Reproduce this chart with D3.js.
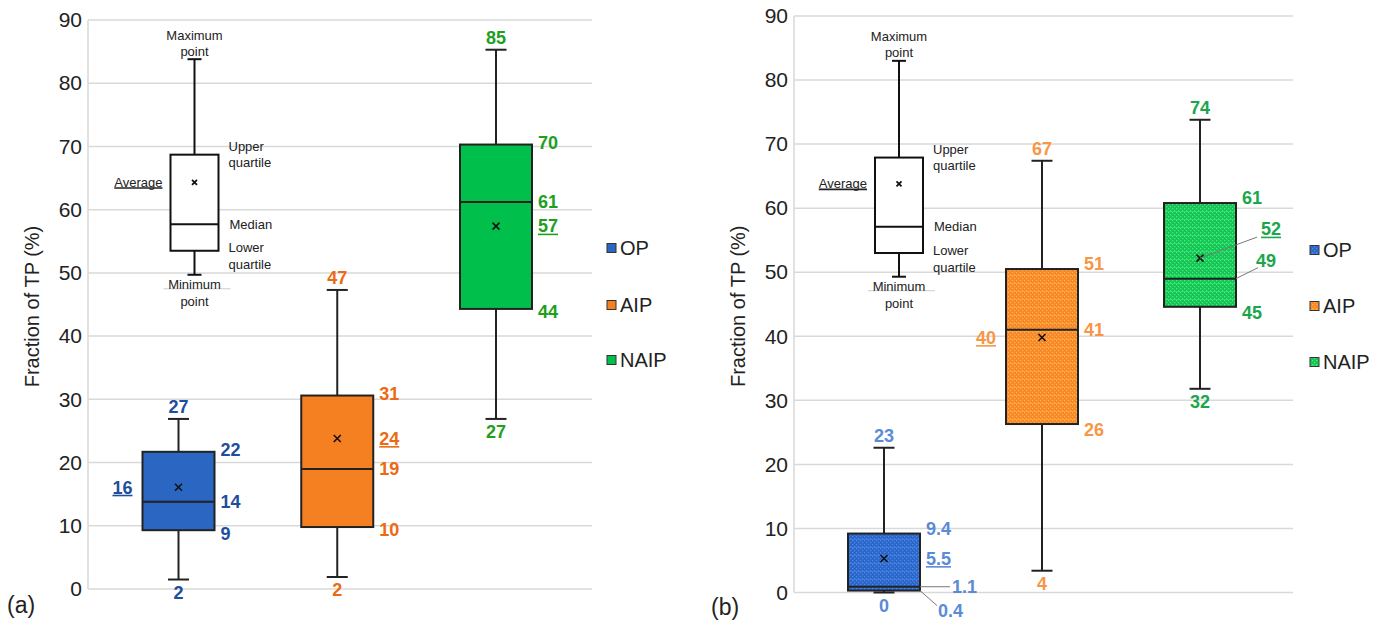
<!DOCTYPE html>
<html><head><meta charset="utf-8">
<script src="https://cdn.jsdelivr.net/npm/d3@7"></script>
<style>body{margin:0;background:#fff}svg{display:block;font-family:"Liberation Sans",Arial,sans-serif}</style>
</head><body>
<svg id="c" width="1373" height="623"></svg>
<script>
const categories = ["OP","AIP","NAIP"];
const yTicks = [0,10,20,30,40,50,60,70,80,90];
// Panel (a)
const aMin  = [1.5, 1.9, 26.9];
const aQ1   = [9.3, 9.8, 44.3];
const aMed  = [13.8, 19.0, 61.2];
const aQ3   = [21.7, 30.6, 70.3];
const aMax  = [26.9, 47.3, 85.3];
const aMean = [16.1, 23.8, 57.4];
const aLabMin  = ["2","2","27"];
const aLabQ1   = ["9","10","44"];
const aLabMed  = ["14","19","61"];
const aLabQ3   = ["22","31","70"];
const aLabMax  = ["27","47","85"];
const aLabMean = ["16","24","57"];
// Panel (b)
const bMin  = [0.0, 3.4, 31.8];
const bQ1   = [0.3, 26.3, 44.6];
const bMed  = [0.9, 41.0, 49.0];
const bQ3   = [9.2, 50.5, 60.8];
const bMax  = [22.6, 67.4, 73.8];
const bMean = [5.3, 39.8, 52.2];
const bLabMin  = ["0","4","32"];
const bLabQ1   = ["0.4","26","45"];
const bLabMed  = ["1.1","41","49"];
const bLabQ3   = ["9.4","51","61"];
const bLabMax  = ["23","67","74"];
const bLabMean = ["5.5","40","52"];
// Example (key) boxes
const exA = {min:49.7, q1:53.5, med:57.7, q3:68.7, max:83.8, mean:64.3};
const exB = {min:49.3, q1:53.0, med:57.1, q3:67.9, max:83.0, mean:63.8};

const fillA = ["#2A66C2","#F58022","#00C04B"];
const fillB = ["#2F66C4","#F7862C","#1FBF57"];
const labA  = ["#1F4E9C","#EC6A12","#1DA01D"];
const labB  = ["#5B8AD6","#F79646","#1CA64C"];

const svg = d3.select("#c");
const defs = svg.append("defs");
fillB.forEach((c,i)=>{
  const p = defs.append("pattern").attr("id","pat"+i).attr("patternUnits","userSpaceOnUse")
    .attr("width",4).attr("height",8);
  p.append("rect").attr("width",4).attr("height",8).attr("fill",c);
  const light = d3.color(c).brighter(0.9).formatHex();
  p.append("rect").attr("x",0).attr("y",0).attr("width",1.2).attr("height",1.2).attr("fill",light);
  p.append("rect").attr("x",2).attr("y",2).attr("width",1.2).attr("height",1.2).attr("fill",light);
  p.append("rect").attr("x",0).attr("y",4).attr("width",1.2).attr("height",1.2).attr("fill",light);
  p.append("rect").attr("x",2).attr("y",6).attr("width",1.2).attr("height",1.2).attr("fill",light);
  p.append("rect").attr("x",0).attr("y",3).attr("width",4).attr("height",0.8).attr("fill",light).attr("opacity",0.6);
});

function underline(sel, color){
  sel.each(function(){
    const bb = this.getBBox();
    d3.select(this.parentNode).append("line")
      .attr("x1",bb.x).attr("x2",bb.x+bb.width)
      .attr("y1",bb.y+bb.height-2).attr("y2",bb.y+bb.height-2)
      .attr("stroke",color).attr("stroke-width",1.6);
  });
}

function panel(cfg){
  const g = svg.append("g");
  const y = d3.scaleLinear().domain([0,90]).range([cfg.y0, cfg.y90]);
  const x = d3.scalePoint().domain(categories).range(cfg.xr);
  // grid
  g.selectAll(".grid").data(yTicks).enter().append("line")
    .attr("x1",cfg.left).attr("x2",cfg.right).attr("y1",d=>y(d)).attr("y2",d=>y(d))
    .attr("stroke","#d9d9d9").attr("stroke-width",1.5);
  g.append("line").attr("x1",cfg.left).attr("x2",cfg.left).attr("y1",y(0)).attr("y2",y(90))
    .attr("stroke","#d9d9d9").attr("stroke-width",1.5);
  const ax = g.append("g").attr("transform",`translate(${cfg.left},0)`)
    .call(d3.axisLeft(y).tickValues(yTicks).tickSize(0).tickPadding(6));
  ax.select(".domain").remove();
  ax.selectAll("text").attr("font-size",21).attr("fill","#222").attr("font-family","Liberation Sans, Arial, sans-serif");
  g.append("text").attr("transform",`translate(${cfg.left-49},${(y(0)+y(90))/2+2}) rotate(-90)`)
    .attr("text-anchor","middle").attr("font-size",20).attr("fill","#222").text("Fraction of TP (%)");
  g.append("text").attr("x",cfg.pl[0]).attr("y",cfg.pl[1]).attr("font-size",23).attr("fill","#222").text(cfg.panelLabel);

  const bw = 72, cw = 21;
  const d = categories.map((c,i)=>({c,i,min:cfg.min[i],q1:cfg.q1[i],med:cfg.med[i],q3:cfg.q3[i],max:cfg.max[i],mean:cfg.mean[i]}));
  const bx = g.selectAll(".box").data(d).enter().append("g");
  bx.append("line").attr("x1",e=>x(e.c)).attr("x2",e=>x(e.c)).attr("y1",e=>y(e.max)).attr("y2",e=>y(e.min))
    .attr("stroke","#222").attr("stroke-width",2);
  bx.append("line").attr("x1",e=>x(e.c)-cw/2).attr("x2",e=>x(e.c)+cw/2).attr("y1",e=>y(e.max)).attr("y2",e=>y(e.max))
    .attr("stroke","#222").attr("stroke-width",2);
  bx.append("line").attr("x1",e=>x(e.c)-cw/2).attr("x2",e=>x(e.c)+cw/2).attr("y1",e=>y(e.min)).attr("y2",e=>y(e.min))
    .attr("stroke","#222").attr("stroke-width",2);
  bx.append("rect").attr("x",e=>x(e.c)-bw/2).attr("width",bw).attr("y",e=>y(e.q3)).attr("height",e=>y(e.q1)-y(e.q3))
    .attr("fill",e=>cfg.fill(e.i)).attr("stroke","#222").attr("stroke-width",2);
  bx.append("line").attr("x1",e=>x(e.c)-bw/2).attr("x2",e=>x(e.c)+bw/2).attr("y1",e=>y(e.med)).attr("y2",e=>y(e.med))
    .attr("stroke","#222").attr("stroke-width",2);
  bx.append("path").attr("d",e=>{const cx=x(e.c),cy=y(e.mean),s=3.5;return `M${cx-s},${cy-s}L${cx+s},${cy+s}M${cx-s},${cy+s}L${cx+s},${cy-s}`;})
    .attr("stroke","#111").attr("stroke-width",1.6);

  // value labels
  const L = g.append("g").attr("font-weight","bold").attr("font-size",18);
  d.forEach(e=>{
    const col = cfg.lab[e.i], cx = x(e.c), r = cx+bw/2;
    const t = (xx,yy,txt,anchor)=>L.append("text").attr("x",xx).attr("y",yy).attr("dy","0.35em")
      .attr("text-anchor",anchor||"start").attr("fill",col).text(txt);
    t(cx, y(e.max)-12, cfg.lMax[e.i], "middle");
    t(cx, y(e.min)+13, cfg.lMin[e.i], "middle");
    t(r+6, y(e.q3)+cfg.q3off, cfg.lQ3[e.i]);
    const sp = cfg.special[e.i] || {};
    if(sp.med){
      L.append("line").attr("x1",r).attr("y1",y(e.med)).attr("x2",r+sp.med[0]).attr("y2",y(e.med)+sp.med[1])
        .attr("stroke","#777").attr("stroke-width",1);
      t(r+sp.med[0]+sp.med[2], y(e.med)+sp.med[1]+sp.med[3], cfg.lMed[e.i]);
    } else t(r+6, y(e.med), cfg.lMed[e.i]);
    if(sp.q1){
      L.append("line").attr("x1",r).attr("y1",y(e.q1)).attr("x2",r+sp.q1[0]).attr("y2",y(e.q1)+sp.q1[1])
        .attr("stroke","#777").attr("stroke-width",1);
      t(r+sp.q1[0]+sp.q1[2], y(e.q1)+sp.q1[1]+sp.q1[3], cfg.lQ1[e.i]);
    } else t(r+6, y(e.q1)+cfg.q1off, cfg.lQ1[e.i]);
    let mt;
    if(sp.meanLeader){
      L.append("line").attr("x1",cx).attr("y1",y(e.mean)).attr("x2",cx+sp.meanLeader[0]).attr("y2",y(e.mean)+sp.meanLeader[1])
        .attr("stroke","#777").attr("stroke-width",1);
      mt = t(cx+sp.meanLeader[0]+4, y(e.mean)+sp.meanLeader[1]-8, cfg.lMean[e.i]);
    } else if(cfg.meanLeft[e.i]) mt = t(cx-bw/2-10, y(e.mean), cfg.lMean[e.i], "end");
    else mt = t(r+6, y(e.mean), cfg.lMean[e.i]);
    underline(mt, col);
  });

  // example box
  const ex = cfg.ex, ecx = cfg.exX, ew = 48;
  const E = g.append("g");
  E.append("line").attr("x1",ecx).attr("x2",ecx).attr("y1",y(ex.max)).attr("y2",y(ex.min)).attr("stroke","#111").attr("stroke-width",2);
  [ex.max, ex.min].forEach(v=>E.append("line").attr("x1",ecx-7).attr("x2",ecx+7).attr("y1",y(v)).attr("y2",y(v)).attr("stroke","#111").attr("stroke-width",2));
  E.append("rect").attr("x",ecx-ew/2).attr("width",ew).attr("y",y(ex.q3)).attr("height",y(ex.q1)-y(ex.q3))
    .attr("fill","#fff").attr("stroke","#111").attr("stroke-width",2);
  E.append("line").attr("x1",ecx-ew/2).attr("x2",ecx+ew/2).attr("y1",y(ex.med)).attr("y2",y(ex.med)).attr("stroke","#111").attr("stroke-width",2);
  E.append("path").attr("d",`M${ecx-2.5},${y(ex.mean)-2.5}L${ecx+2.5},${y(ex.mean)+2.5}M${ecx-2.5},${y(ex.mean)+2.5}L${ecx+2.5},${y(ex.mean)-2.5}`)
    .attr("stroke","#111").attr("stroke-width",1.8);
  const et = (xx,yy,txt,anchor)=>E.append("text").attr("x",xx).attr("y",yy).attr("dy","0.35em").attr("font-size",13)
    .attr("fill","#222").attr("text-anchor",anchor||"start").text(txt);
  et(ecx, y(ex.max)-24, "Maximum", "middle");
  et(ecx, y(ex.max)-8, "point", "middle");
  et(ecx+ew/2+10, y(ex.q3)-8, "Upper");
  et(ecx+ew/2+10, y(ex.q3)+8, "quartile");
  underline(et(ecx-ew/2-8, y(ex.mean), "Average", "end"), "#222");
  et(ecx+ew/2+11, y(ex.med), "Median");
  et(ecx+ew/2+10, y(ex.q1)-3, "Lower");
  et(ecx+ew/2+10, y(ex.q1)+14, "quartile");
  E.append("line").attr("x1",ecx-31).attr("x2",ecx+36).attr("y1",y(ex.min)+14).attr("y2",y(ex.min)+14).attr("stroke","#ccc").attr("stroke-width",1);
  et(ecx, y(ex.min)+10, "Minimum", "middle");
  et(ecx, y(ex.min)+27, "point", "middle");

  // legend
  const lg = g.append("g").selectAll("g").data(categories).enter().append("g")
    .attr("transform",(c,i)=>`translate(${cfg.legX},${cfg.legY[i]})`);
  lg.append("rect").attr("x",0).attr("y",-4.5).attr("width",9).attr("height",9)
    .attr("fill",(c,i)=>cfg.fill(i)).attr("stroke","#333").attr("stroke-width",1);
  lg.append("text").attr("x",13).attr("dy","0.35em").attr("font-size",20).attr("fill","#222").text(c=>c);
}

panel({y0:589, y90:20, left:88, right:592, xr:[178.5,496],
  min:aMin,q1:aQ1,med:aMed,q3:aQ3,max:aMax,mean:aMean,
  lMin:aLabMin,lQ1:aLabQ1,lMed:aLabMed,lQ3:aLabQ3,lMax:aLabMax,lMean:aLabMean,
  fill:i=>fillA[i], lab:labA, q3off:-2, q1off:3, meanLeft:[true,false,false], special:[{},{},{}],
  ex:exA, exX:194.5, legX:607, legY:[248,305,360], panelLabel:"(a)", pl:[7,613]});

panel({y0:592.5, y90:16, left:794, right:1293, xr:[884,1200],
  min:bMin,q1:bQ1,med:bMed,q3:bQ3,max:bMax,mean:bMean,
  lMin:bLabMin,lQ1:bLabQ1,lMed:bLabMed,lQ3:bLabQ3,lMax:bLabMax,lMean:bLabMean,
  fill:i=>`url(#pat${i})`, lab:labB, q3off:-5, q1off:6, meanLeft:[false,true,false],
  special:[{med:[30,0,2,0], q1:[17,15,1,5]},{},{med:[22,-11,-2,-7], meanLeader:[57,-21]}],
  ex:exB, exX:899, legX:1310, legY:[250,306,362], panelLabel:"(b)", pl:[711,615]});
</script>
</body></html>
